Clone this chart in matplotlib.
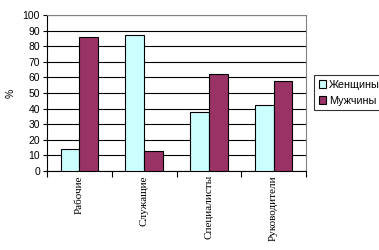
import matplotlib
matplotlib.use("Agg")
import matplotlib.pyplot as plt
import numpy as np

categories = ["Рабочие", "Служащие", "Специалисты", "Руководители"]
women = [14, 87, 38, 42]
men = [86, 13, 62, 58]
series_names = ["Женщины", "Мужчины"]
yticks = list(range(0, 101, 10))

fig = plt.figure(figsize=(3.79, 2.5), dpi=100)
ax = fig.add_axes([47/379, 1-171/250, (306-47)/379, (171-15)/250])

x = np.arange(len(categories))
w = 0.29
ax.bar(x - w/2, women, w, color="#CCFFFF", edgecolor="black", linewidth=0.8, label=series_names[0], zorder=3)
ax.bar(x + w/2, men, w, color="#993366", edgecolor="black", linewidth=0.8, label=series_names[1], zorder=3)

ax.set_xlim(-0.5, len(categories) - 0.5)
ax.set_ylim(0, 100)
ax.set_yticks(yticks)
ax.set_yticklabels([str(t) for t in yticks], fontsize=7.5, family="Liberation Sans")
ax.yaxis.grid(True, color="black", linewidth=0.8, zorder=0)
ax.set_axisbelow(True)

ax.set_xticks(np.arange(-0.5, len(categories), 1.0))
ax.set_xticklabels([])
ax.set_xticks(x, minor=True)
ax.set_xticklabels(categories, minor=True, rotation=90, fontsize=8, family="Liberation Serif", va="top")
ax.tick_params(axis="x", which="minor", length=0, pad=3)
ax.tick_params(axis="x", which="major", length=4, width=0.8, direction="out")
ax.tick_params(axis="y", length=3, width=0.8, direction="out", pad=2)

for s in ["left", "bottom"]:
    ax.spines[s].set_color("black")
    ax.spines[s].set_linewidth(0.8)
for s in ["top", "right"]:
    ax.spines[s].set_color("#808080")
    ax.spines[s].set_linewidth(0.8)

ax.set_ylabel("%", fontsize=7.5, family="Liberation Sans", labelpad=5)

leg = fig.legend(loc="upper left", bbox_to_anchor=(314/379, 1-74.7/250),
                 prop={"family": "Liberation Sans", "size": 7.8},
                 frameon=True, fancybox=False, edgecolor="black", handlelength=0.7,
                 handleheight=0.7, handletextpad=0.2, borderpad=0.45, labelspacing=0.55, borderaxespad=0)
leg.get_frame().set_linewidth(0.8)

fig.savefig("out.png", dpi=100)
